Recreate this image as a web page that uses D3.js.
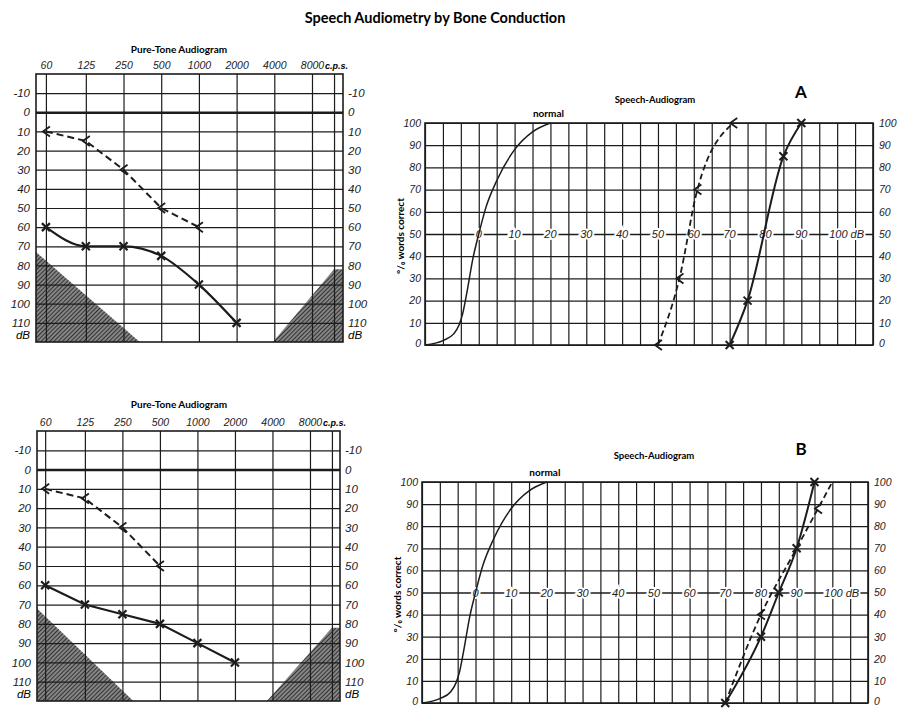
<!DOCTYPE html>
<html>
<head>
<meta charset="utf-8">
<script src="https://cdn.jsdelivr.net/npm/d3@7"></script>
<style>
  body { margin: 0; background: #fff; }
  svg text { font-family: "Liberation Sans", Arial, sans-serif; }
</style>
</head>
<body>
<script>
// --- data ---
// pure-tone audiogram axes
const freqLabels = [60, 125, 250, 500, 1000, 2000, 4000, 8000];
const freqGrid = [60, 125, 250, 500, 1000, 2000, 4000, 8000, 12000];
const dbTicks = [-10, 0, 10, 20, 30, 40, 50, 60, 70, 80, 90, 100, 110];

// case A, pure tone (dB hearing loss)
const ptDashedA = [{f: 60, db: 10}, {f: 125, db: 15}, {f: 250, db: 30}, {f: 500, db: 50}, {f: 1000, db: 60}];
const ptSolidA = [{f: 60, db: 60}, {f: 125, db: 70}, {f: 250, db: 70}, {f: 500, db: 75}, {f: 1000, db: 90}, {f: 2000, db: 110}];
// case B, pure tone
const ptDashedB = [{f: 60, db: 10}, {f: 125, db: 15}, {f: 250, db: 30}, {f: 500, db: 50}];
const ptSolidB = [{f: 60, db: 60}, {f: 125, db: 70}, {f: 250, db: 75}, {f: 500, db: 80}, {f: 1000, db: 90}, {f: 2000, db: 100}];

// hatched limits of the audiometer (f below the domain is clamped to the edge)
const hatchLeftA = [{f: 40, db: 73}, {f: 40, db: 120}, {f: 337, db: 120}];
const hatchRightA = [{f: 3900, db: 120}, {f: 12000, db: 82}, {f: 20000, db: 82}, {f: 20000, db: 120}];
const hatchLeftB = [{f: 40, db: 72}, {f: 40, db: 120}, {f: 306, db: 120}];
const hatchRightB = [{f: 3610, db: 120}, {f: 12000, db: 82}, {f: 20000, db: 82}, {f: 20000, db: 120}];

// speech audiogram axes
const speechDbTicks = [0, 10, 20, 30, 40, 50, 60, 70, 80, 90, 100];
const pctTicks = [0, 10, 20, 30, 40, 50, 60, 70, 80, 90, 100];

// speech curves: [dB, % words correct]
const speechNormal = [[-15, 0], [-10, 2], [-7, 5], [-5.5, 9], [-4.5, 14], [-3.5, 22], [-1.5, 40], [0, 50],
    [2, 62], [5, 74], [10, 88], [15, 96], [20, 100]];
const speechDashedA = [[50, 0], [56, 30], [61, 70], [71, 100]];
const speechSolidA = [[70, 0], [75, 20], [85, 85], [90, 100]];
const speechDashedB = [[70, 0], [80, 40], [90, 70], [96, 88], [100, 100]];
const speechDashedMarksB = [[80, 40], [96, 88]];
const speechSolidB = [[70, 0], [80, 30], [85, 50], [90, 70], [95, 100]];

// --- drawing ---
const W = 898, H = 708;
const ink = '#1c1c1c';
const numFont = '"Liberation Sans Narrow", "Liberation Sans", Arial, sans-serif';
const headFont = 'Lato, "Noto Sans", sans-serif';
const svg = d3.select('body').append('svg').attr('width', W).attr('height', H);

// hatch pattern for the masked corners
const pat = svg.append('defs').append('pattern')
    .attr('id', 'hatch')
    .attr('patternUnits', 'userSpaceOnUse')
    .attr('width', 3).attr('height', 3)
    .attr('patternTransform', 'rotate(45)');
pat.append('rect').attr('width', 3).attr('height', 3).attr('fill', '#858585');
pat.append('line').attr('x1', 0).attr('y1', 0).attr('x2', 0).attr('y2', 3)
    .attr('stroke', '#1e1e1e').attr('stroke-width', 1.6);

svg.append('text')
    .attr('x', 435).attr('y', 23)
    .attr('text-anchor', 'middle')
    .style('font-family', headFont)
    .attr('font-weight', 700)
    .attr('font-size', 14.5)
    .text('Speech Audiometry by Bone Conduction');

const crossPath = 'M-4,-4L4,4M-4,4L4,-4';
const ltPath = 'M4,-5L-3,0L4,5';
const fmtDb = d => d < 0 ? '-' + Math.abs(d) : String(d);

function styleNumbers(sel, size) {
    sel.attr('font-family', null).attr('font-size', null);
    sel.selectAll('text')
        .style('font-family', numFont)
        .attr('font-style', 'italic')
        .attr('font-size', size)
        .attr('fill', ink);
}

function drawPureTone(p) {
    const x = d3.scaleLog().base(2).domain(p.fDomain).range([p.x0, p.x1]).clamp(true);
    const y = d3.scaleLinear().domain([-20, 120]).range([p.y0, p.y1]);
    const g = svg.append('g');
    const pt = d3.line().x(d => x(d.f)).y(d => y(d.db));

    // hatched corners
    [p.hatchL, p.hatchR].forEach(h => {
        g.append('path').attr('d', pt(h) + 'Z').attr('fill', 'url(#hatch)');
    });

    // horizontal grid
    g.append('g')
        .attr('transform', `translate(${p.x0},0)`)
        .call(d3.axisLeft(y).tickValues(dbTicks).tickSize(-(p.x1 - p.x0)).tickFormat(''))
        .call(a => a.select('.domain').remove())
        .selectAll('line')
        .attr('stroke', ink)
        .attr('stroke-width', d => d === 0 ? 2.6 : 1.2);

    // vertical grid
    g.append('g')
        .attr('transform', `translate(0,${p.y0})`)
        .call(d3.axisTop(x).tickValues(freqGrid).tickSize(-(p.y1 - p.y0)).tickFormat(''))
        .call(a => a.select('.domain').remove())
        .selectAll('line')
        .attr('stroke', ink)
        .attr('stroke-width', 1.2);

    g.append('rect')
        .attr('x', p.x0).attr('y', p.y0)
        .attr('width', p.x1 - p.x0).attr('height', p.y1 - p.y0)
        .attr('fill', 'none').attr('stroke', ink).attr('stroke-width', 1.6);

    // tick labels
    const left = g.append('g').attr('transform', `translate(${p.x0 - 2},0)`)
        .call(d3.axisLeft(y).tickValues(dbTicks).tickSize(0).tickPadding(4).tickFormat(fmtDb))
        .call(a => a.select('.domain').remove());
    styleNumbers(left, 11.5);
    const right = g.append('g').attr('transform', `translate(${p.x1 + 1},0)`)
        .call(d3.axisRight(y).tickValues(dbTicks).tickSize(0).tickPadding(4).tickFormat(fmtDb))
        .call(a => a.select('.domain').remove());
    styleNumbers(right, 11.5);
    const top = g.append('g').attr('transform', `translate(0,${p.y0})`)
        .call(d3.axisTop(x).tickValues(freqLabels).tickSize(0).tickPadding(5).tickFormat(d3.format('d')))
        .call(a => a.select('.domain').remove());
    styleNumbers(top, 10.5);

    g.append('text')
        .attr('x', x(8000) + 13).attr('y', p.y0 - 5)
        .attr('font-size', 9).attr('font-weight', 700).attr('font-style', 'italic')
        .text('c.p.s.');
    g.append('text')
        .attr('x', p.x0 - 6).attr('y', p.y1 - 3)
        .attr('text-anchor', 'end')
        .style('font-family', numFont)
        .attr('font-size', 11.5).attr('font-style', 'italic')
        .text('dB');
    g.append('text')
        .attr('x', p.x1 + 5).attr('y', p.y1 - 3)
        .style('font-family', numFont)
        .attr('font-size', 11.5).attr('font-style', 'italic')
        .text('dB');

    g.append('text')
        .attr('x', 179).attr('y', p.titleY)
        .attr('text-anchor', 'middle')
        .style('font-family', headFont)
        .attr('font-weight', 700).attr('font-size', 10)
        .text('Pure-Tone Audiogram');

    // curves
    const line = d3.line().x(d => x(d.f)).y(d => y(d.db));
    g.append('path').datum(p.dashed)
        .attr('d', line).attr('fill', 'none')
        .attr('stroke', ink).attr('stroke-width', 2).attr('stroke-dasharray', '7,4');
    g.append('path').datum(p.solid)
        .attr('d', line.curve(p.curve)).attr('fill', 'none')
        .attr('stroke', ink).attr('stroke-width', 2.2);

    g.selectAll('.lt').data(p.dashed).join('path')
        .attr('transform', d => `translate(${x(d.f)},${y(d.db)})`)
        .attr('d', ltPath).attr('fill', 'none').attr('stroke', ink).attr('stroke-width', 1.8);
    g.selectAll('.cross').data(p.solid).join('path')
        .attr('transform', d => `translate(${x(d.f)},${y(d.db)})`)
        .attr('d', crossPath).attr('fill', 'none').attr('stroke', ink).attr('stroke-width', 2.2);
}

function drawSpeech(p) {
    const x = d3.scaleLinear().domain([-15, 110]).range([p.x0, p.x1]);
    const y = d3.scaleLinear().domain([0, 100]).range([p.y1, p.y0]);
    const g = svg.append('g');

    g.append('g')
        .attr('transform', `translate(0,${p.y0})`)
        .call(d3.axisTop(x).tickValues(d3.range(-15, 111, 5)).tickSize(-(p.y1 - p.y0)).tickFormat(''))
        .call(a => a.select('.domain').remove())
        .selectAll('line').attr('stroke', ink).attr('stroke-width', 1.2);
    g.append('g')
        .attr('transform', `translate(${p.x0},0)`)
        .call(d3.axisLeft(y).tickValues(pctTicks).tickSize(-(p.x1 - p.x0)).tickFormat(''))
        .call(a => a.select('.domain').remove())
        .selectAll('line').attr('stroke', ink).attr('stroke-width', d => d === 50 ? 1.5 : 1.2);
    g.append('rect')
        .attr('x', p.x0).attr('y', p.y0)
        .attr('width', p.x1 - p.x0).attr('height', p.y1 - p.y0)
        .attr('fill', 'none').attr('stroke', ink).attr('stroke-width', 1.6);

    const left = g.append('g').attr('transform', `translate(${p.x0},0)`)
        .call(d3.axisLeft(y).tickValues(pctTicks).tickSize(0).tickPadding(4))
        .call(a => a.select('.domain').remove());
    styleNumbers(left, 10.5);
    const right = g.append('g').attr('transform', `translate(${p.x1},0)`)
        .call(d3.axisRight(y).tickValues(pctTicks).tickSize(0).tickPadding(6))
        .call(a => a.select('.domain').remove());
    styleNumbers(right, 10.5);
    // keep the bottom "0" inside the page
    g.selectAll('.tick').filter(d => d === 0).select('text').attr('dy', '0.1em');

    // dB scale written on the 50 % line
    g.selectAll('.dbl').data(speechDbTicks).join('text')
        .attr('x', d => d === 100 ? x(d) - 8 : x(d))
        .attr('y', y(50) + 4)
        .attr('text-anchor', d => d === 100 ? 'start' : 'middle')
        .style('font-family', numFont)
        .attr('font-size', 11).attr('font-style', 'italic').attr('fill', ink)
        .attr('stroke', '#fff').attr('stroke-width', 4).attr('paint-order', 'stroke')
        .text(d => d === 100 ? '100 dB' : d);

    const line = d3.line().x(d => x(d[0])).y(d => y(d[1])).curve(d3.curveMonotoneX);
    g.append('path').datum(speechNormal)
        .attr('d', line).attr('fill', 'none').attr('stroke', ink).attr('stroke-width', 1.5);
    g.append('path').datum(p.dashed)
        .attr('d', line).attr('fill', 'none').attr('stroke', ink)
        .attr('stroke-width', 1.8).attr('stroke-dasharray', '6,3.5');
    g.append('path').datum(p.solid)
        .attr('d', line).attr('fill', 'none').attr('stroke', ink).attr('stroke-width', 2);

    g.selectAll('.lt').data(p.dashedMarks).join('path')
        .attr('transform', d => `translate(${x(d[0])},${y(d[1])})`)
        .attr('d', ltPath).attr('fill', 'none').attr('stroke', ink).attr('stroke-width', 1.8);
    g.selectAll('.cross').data(p.solid).join('path')
        .attr('transform', d => `translate(${x(d[0])},${y(d[1])})`)
        .attr('d', crossPath).attr('fill', 'none').attr('stroke', ink).attr('stroke-width', 2);

    g.append('text')
        .attr('x', x(20) - 2).attr('y', p.y0 - 6)
        .attr('text-anchor', 'middle')
        .style('font-family', headFont)
        .attr('font-weight', 700).attr('font-size', 10)
        .text('normal');
    g.append('text')
        .attr('x', p.titleX).attr('y', p.titleY)
        .attr('text-anchor', 'middle')
        .style('font-family', headFont)
        .attr('font-weight', 700).attr('font-size', 9.5)
        .text('Speech-Audiogram');
    g.append('text')
        .attr('x', 801).attr('y', p.letterY)
        .attr('text-anchor', 'middle')
        .style('font-family', headFont)
        .attr('font-weight', 700).attr('font-size', 17)
        .text(p.letter);
    g.append('text')
        .attr('transform', `translate(${p.x0 - 21},${(p.y0 + p.y1) / 2 + 2}) rotate(-90)`)
        .attr('text-anchor', 'middle')
        .style('font-family', headFont)
        .attr('font-weight', 700).attr('font-size', 10)
        .text('°/₀ words correct');
}

drawPureTone({x0: 36, x1: 343, y0: 74, y1: 342, fDomain: [50, 14150], titleY: 53,
    dashed: ptDashedA, solid: ptSolidA, hatchL: hatchLeftA, hatchR: hatchRightA, curve: d3.curveMonotoneX});
drawPureTone({x0: 37, x1: 340, y0: 431, y1: 701, fDomain: [51.6, 13930], titleY: 408,
    dashed: ptDashedB, solid: ptSolidB, hatchL: hatchLeftB, hatchR: hatchRightB, curve: d3.curveLinear});

drawSpeech({x0: 425, x1: 873, y0: 123, y1: 345, titleX: 655, titleY: 103, letter: 'A', letterY: 98,
    dashed: speechDashedA, dashedMarks: speechDashedA, solid: speechSolidA});
drawSpeech({x0: 422, x1: 868, y0: 482, y1: 703, titleX: 654, titleY: 459, letter: 'B', letterY: 455,
    dashed: speechDashedB, dashedMarks: speechDashedMarksB, solid: speechSolidB});
</script>
</body>
</html>
